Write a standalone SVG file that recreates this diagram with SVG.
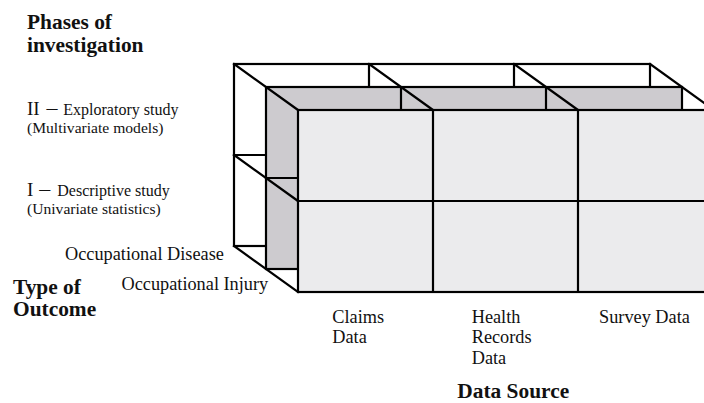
<svg xmlns="http://www.w3.org/2000/svg" width="704" height="403" viewBox="0 0 704 403">
<style>
.ln{stroke:#000;stroke-width:2.2;fill:none;stroke-linecap:square}
.back{fill:#fff;stroke:#000;stroke-width:2.2}
.mid{fill:#cdcbcf;stroke:#000;stroke-width:2.2}
.front{fill:#ebebed;stroke:#000;stroke-width:2.2}
.t{font-family:"Liberation Serif","Times New Roman",serif;fill:#111}
.b{font-family:"Liberation Serif","Times New Roman",serif;font-weight:bold;font-size:21.4px;fill:#111}
.lbl{font-size:18.3px}
</style>
<rect width="704" height="403" fill="#fff"/>
<g id="back-layer">
<rect class="back" x="234" y="64" width="416" height="182"/>
<path class="ln" d="M234 155H650M369 64V246M514 64V246"/>
</g>
<g id="middle-layer">
<rect class="mid" x="266" y="87" width="416" height="182"/>
<path class="ln" d="M266 178H682M401 87V269M546 87V269"/>
</g>
<g id="connectors">
<path class="ln" d="M234 64L298 110M369 64L433 110M514 64L578 110M650 64L714 110M234 155L298 201M234 246L298 292"/>
</g>
<g id="front-layer">
<rect class="front" x="298" y="110" width="416" height="182"/>
<path class="ln" d="M298 201H714M433 110V292M578 110V292"/>
</g>
<g id="axis-phases">
<text class="b" x="27" y="28.5">Phases of</text>
<text class="b" x="27" y="52">investigation</text>
<text class="t" y="115"><tspan x="27" font-size="19">II</tspan><tspan x="46.5" font-size="22">–</tspan><tspan x="63.3" font-size="16">Exploratory study</tspan></text>
<text class="t" x="27" y="133" font-size="15.6">(Multivariate models)</text>
<text class="t" y="196"><tspan x="27" font-size="19">I</tspan><tspan x="39.3" font-size="22">–</tspan><tspan x="57.3" font-size="16">Descriptive study</tspan></text>
<text class="t" x="27" y="214" font-size="15.6">(Univariate statistics)</text>
</g>
<g id="axis-outcome">
<text class="t lbl" x="65" y="260">Occupational Disease</text>
<text class="t lbl" x="121.5" y="290">Occupational Injury</text>
<text class="b" x="13" y="293.5">Type of</text>
<text class="b" x="13" y="316">Outcome</text>
</g>
<g id="axis-source">
<text class="t lbl" x="332.3" y="322.7">Claims</text>
<text class="t lbl" x="332.3" y="343.3">Data</text>
<text class="t lbl" x="471.7" y="322.7">Health</text>
<text class="t lbl" x="471.7" y="343.3">Records</text>
<text class="t lbl" x="471.7" y="364">Data</text>
<text class="t lbl" x="599" y="322.7">Survey Data</text>
<text class="b" x="457.3" y="398">Data Source</text>
</g>
</svg>
